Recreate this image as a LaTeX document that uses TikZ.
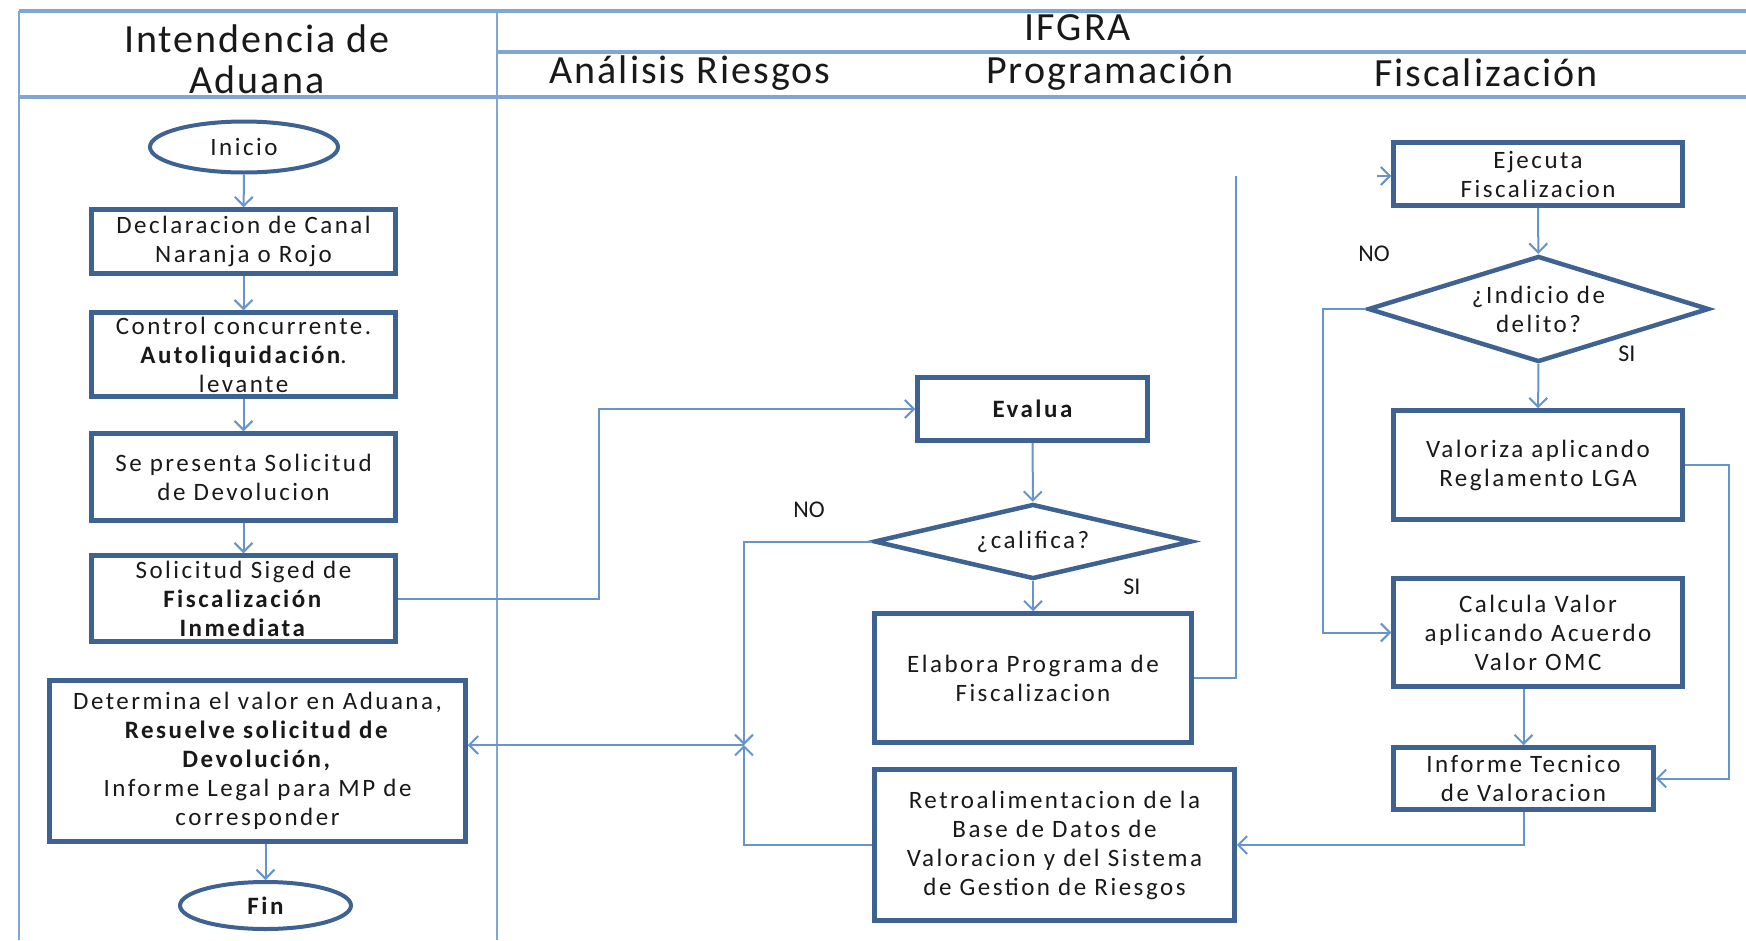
\documentclass[tikz,border=0pt]{standalone}
\usepackage{fontspec}
\setmainfont{Carlito}
\newfontfamily\hdrfont{Carlito}[LetterSpace=5]
\newfontfamily\boxfont{Carlito}[LetterSpace=10]
\usetikzlibrary{arrows.meta,shapes.geometric,calc}
\definecolor{boxc}{RGB}{62,98,145}
\definecolor{linec}{RGB}{104,148,204}
\definecolor{lanec}{RGB}{128,166,214}
\definecolor{txtc}{RGB}{25,25,25}
\begin{document}
\begin{tikzpicture}[x=1pt,y=-1pt,
  proc/.style={draw=boxc, line width=4.5pt, rectangle, inner sep=0pt, align=center,
    font=\boxfont\fontsize{25}{29}\selectfont, text=txtc},
  term/.style={draw=boxc, line width=4pt, ellipse, inner sep=0pt,
    font=\boxfont\fontsize{25}{29}\selectfont, text=txtc},
  deci/.style={draw=boxc, line width=4.5pt, diamond, inner sep=0pt, align=center,
    font=\boxfont\fontsize{25}{29}\selectfont, text=txtc},
  conn/.style={draw=linec, line width=2pt, -{Straight Barb[length=9pt,width=18pt,line width=2pt]}},
  plain/.style={draw=linec, line width=2pt},
  lane/.style={draw=lanec, line width=2.5pt},
  hline/.style={draw=lanec, line width=3.5pt},
  hdr/.style={font=\hdrfont\fontsize{40}{44}\selectfont, text=txtc, inner sep=0pt},
  lbl/.style={font=\fontsize{24}{28}\selectfont, text=txtc, inner sep=0pt}]
\useasboundingbox (0,0) rectangle (1746,940);

% header grid and lanes
\draw[hline] (19,11) -- (1746,11);
\draw[hline] (497,52) -- (1746,52);
\draw[hline] (19,97) -- (1746,97);
\draw[lane] (19,11) -- (19,940);
\draw[lane] (497,11) -- (497,940);

\node[hdr] (h1) at (257,39) {Intendencia de};
\node[hdr] (h2) at (257,80) {Aduana};
\node[hdr] (h3) at (1078,28) {IFGRA};
\node[hdr] (h4) at (690,73) {Análisis Riesgos};
\node[hdr] (h5) at (1110,73) {Programación};
\node[hdr] (h6) at (1486,73) {Fiscalización};

% left lane
\node[term, minimum width=188pt, minimum height=51pt] (ini) at (244,147) {Inicio};
\node[proc, minimum width=304pt, minimum height=64pt] (dec) at (243.5,241.5) {Declaracion de Canal\\Naranja o Rojo};
\node[proc, minimum width=304pt, minimum height=84pt] (con) at (243.5,354.5) {Control concurrente.\\\textbf{Autoliquidación}.\\levante};
\node[proc, minimum width=304pt, minimum height=87pt] (sep) at (243.5,477) {Se presenta Solicitud\\de Devolucion};
\node[proc, minimum width=304pt, minimum height=86pt] (sol) at (243.5,598.5) {Solicitud Siged de\\\textbf{Fiscalización}\\\textbf{Inmediata}};
\node[proc, minimum width=416pt, minimum height=161pt] (det) at (257.5,761) {Determina el valor en Aduana,\\\textbf{Resuelve solicitud de}\\\textbf{Devolución,}\\Informe Legal para MP de\\corresponder};
\node[term, minimum width=171pt, minimum height=47pt, font=\boxfont\bfseries\fontsize{25}{29}\selectfont] (fin) at (265.5,905.5) {Fin};

% middle
\node[proc, minimum width=230pt, minimum height=63pt, font=\boxfont\bfseries\fontsize{25}{29}\selectfont] (eva) at (1032.5,409) {Evalua};
\node[deci, shape aspect=4.2, minimum width=318pt, minimum height=75pt] (cal) at (1033,541.5) {¿califica?};
\node[proc, minimum width=317pt, minimum height=129pt] (ela) at (1033,678) {Elabora Programa de\\Fiscalizacion};
\node[proc, minimum width=360pt, minimum height=151pt] (ret) at (1054.5,845) {Retroalimentacion de la\\Base de Datos de\\Valoracion y del Sistema\\de Gestion de Riesgos};

% right
\node[proc, minimum width=289pt, minimum height=63pt] (eje) at (1538,174) {Ejecuta\\Fiscalizacion};
\node[deci, shape aspect=3.2, minimum width=341pt, minimum height=106pt] (ind) at (1538.5,309) {¿Indicio de\\delito?};
\node[proc, minimum width=289pt, minimum height=109pt] (val) at (1538,465) {Valoriza aplicando\\Reglamento LGA};
\node[proc, minimum width=289pt, minimum height=108pt] (calc) at (1538,632.5) {Calcula Valor\\aplicando Acuerdo\\Valor OMC};
\node[proc, minimum width=260pt, minimum height=62pt] (inf) at (1523.5,778.5) {Informe Tecnico\\de Valoracion};

% labels
\node[lbl] (no1) at (809,510) {NO};
\node[lbl] (si1) at (1132,587) {SI};
\node[lbl] (no2) at (1374,254) {NO};
\node[lbl] (si2) at (1627,354) {SI};

% helper coordinates
\coordinate (k1) at (599,0);
\coordinate (j) at (744,745);
\coordinate (t1) at (1236,176);
\coordinate (s1) at (1377,176);
\coordinate (k2) at (1323,0);
\coordinate (k3) at (1729,0);

% connectors left lane
\draw[conn] (ini) -- (dec);
\draw[conn] (dec) -- (con);
\draw[conn] (con) -- (sep);
\draw[conn] (sep) -- (sol);
\draw[conn] (det.south -| fin.north) -- (fin.north);
\draw[conn] (sol.east) -- (sol.east -| k1) |- (eva.west);

% middle
\draw[conn] (eva) -- (cal);
\draw[conn] (cal) -- (ela);
\draw[conn] (cal.west) -| (j);
\draw[conn] (ret.west) -| (j);
\draw[conn] (j) -- (j -| det.east);
\draw[plain] (ela.east) -| (t1);
\draw[conn] (s1) -- (s1 -| eje.west);

% right
\draw[conn] (eje) -- (ind);
\draw[conn] (ind) -- (val);
\draw[conn] (ind.west) -- (ind.west -| k2) |- (calc.west);
\draw[conn] (val.east) -- (val.east -| k3) |- (inf.east);
\draw[conn] (calc.south -| inf.north) -- (inf.north);
\draw[conn] (inf.south) |- (ret.east);
\end{tikzpicture}
\end{document}
